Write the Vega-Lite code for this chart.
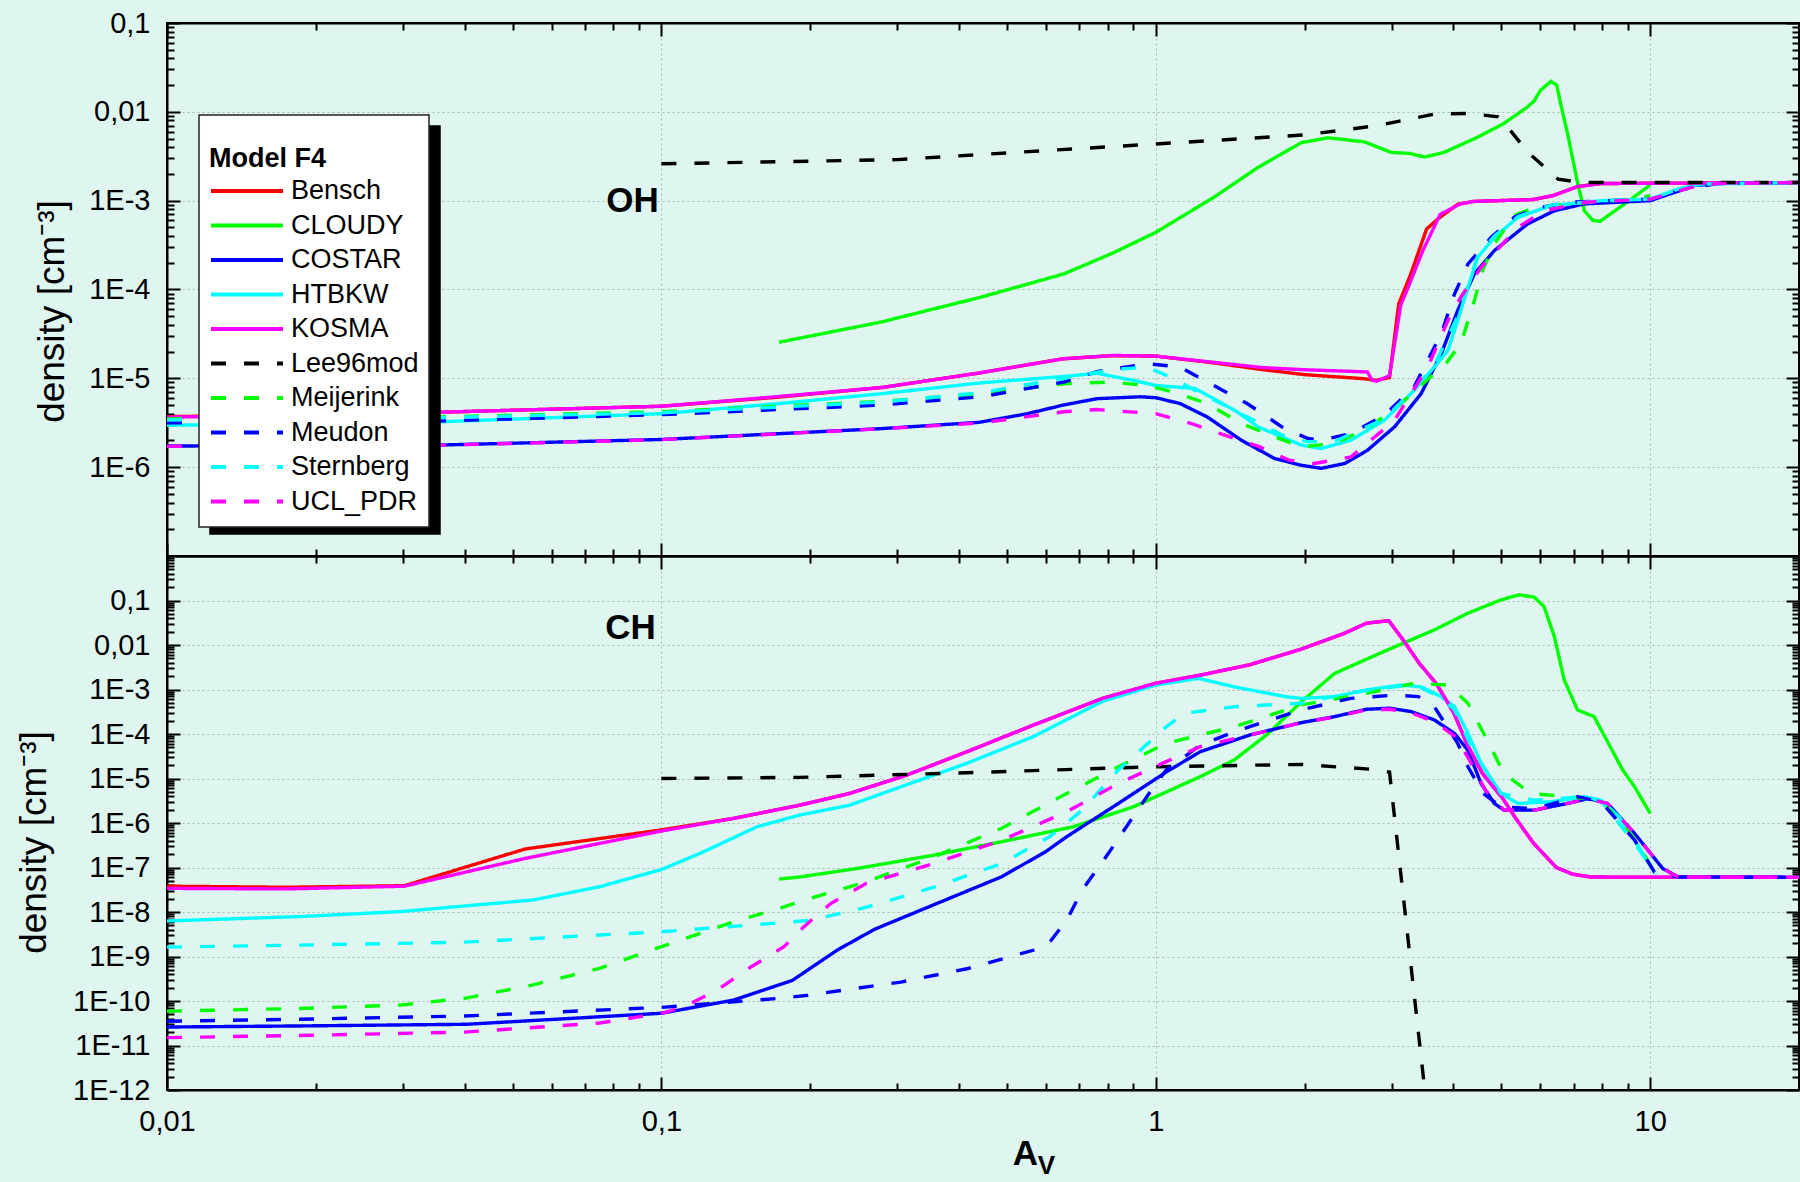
{
  "$schema": "https://vega.github.io/schema/vega-lite/v6.json",
  "background": "#def5f0",
  "padding": {"left": 14, "top": 8, "right": 2, "bottom": 12},
  "config": {
    "font": "Liberation Sans",
    "view": {"stroke": "black", "strokeWidth": 2},
    "axis": {
      "domainColor": "black", "domainWidth": 2, "tickColor": "black", "tickWidth": 2,
      "labelFont": "Liberation Sans", "labelFontSize": 29, "labelColor": "black",
      "labelOverlap": false, "labelFlush": false,
      "titleFont": "Liberation Sans", "titleColor": "black", "titleFontWeight": "normal",
      "gridColor": "#a9b9b5", "gridDash": [2, 3], "gridWidth": 1
    },
    "legend": {
      "fillColor": "white", "strokeColor": "#222222", "strokeWidth": 1.5, "padding": 10,
      "symbolType": "stroke", "symbolSize": 5184, "symbolStrokeWidth": 4,
      "labelFont": "Liberation Sans", "labelFontSize": 27, "labelColor": "black", "labelOffset": 6, "labelLimit": 400,
      "titleFont": "Liberation Sans", "titleFontSize": 27, "titleFontWeight": "bold", "titleColor": "black",
      "titlePadding": 3, "titleLineHeight": 21, "titleLimit": 400,
      "clipHeight": 30, "rowPadding": 4.5
    }
  },
  "datasets": {
    "oh": [
      {"model":"Bensch","av":0.01,"n":3.7e-6},{"model":"Bensch","av":0.03,"n":4.05e-6},{"model":"Bensch","av":0.1,"n":4.85e-6},{"model":"Bensch","av":0.17,"n":6.1e-6},{"model":"Bensch","av":0.28,"n":7.9e-6},{"model":"Bensch","av":0.44,"n":1.15e-5},{"model":"Bensch","av":0.65,"n":1.66e-5},{"model":"Bensch","av":0.82,"n":1.8e-5},{"model":"Bensch","av":1.0,"n":1.78e-5},{"model":"Bensch","av":1.3,"n":1.5e-5},{"model":"Bensch","av":1.65,"n":1.25e-5},{"model":"Bensch","av":2.0,"n":1.1e-5},{"model":"Bensch","av":2.64,"n":9.9e-6},{"model":"Bensch","av":2.79,"n":9.5e-6},{"model":"Bensch","av":2.97,"n":1.02e-5},{"model":"Bensch","av":3.1,"n":6.9e-5},{"model":"Bensch","av":3.27,"n":1.43e-4},{"model":"Bensch","av":3.53,"n":4.8e-4},{"model":"Bensch","av":3.73,"n":6.3e-4},{"model":"Bensch","av":4.08,"n":9.1e-4},{"model":"Bensch","av":4.39,"n":9.8e-4},{"model":"Bensch","av":5.8,"n":1.03e-3},{"model":"Bensch","av":6.36,"n":1.14e-3},{"model":"Bensch","av":7.13,"n":1.44e-3},{"model":"Bensch","av":7.96,"n":1.56e-3},{"model":"Bensch","av":20,"n":1.6e-3},
      {"model":"CLOUDY","av":0.173,"n":2.55e-5},{"model":"CLOUDY","av":0.278,"n":4.3e-5},{"model":"CLOUDY","av":0.443,"n":8.2e-5},{"model":"CLOUDY","av":0.652,"n":1.5e-4},{"model":"CLOUDY","av":0.822,"n":2.6e-4},{"model":"CLOUDY","av":1.0,"n":4.4e-4},{"model":"CLOUDY","av":1.31,"n":1.09e-3},{"model":"CLOUDY","av":1.61,"n":2.37e-3},{"model":"CLOUDY","av":1.97,"n":4.5e-3},{"model":"CLOUDY","av":2.23,"n":5.1e-3},{"model":"CLOUDY","av":2.64,"n":4.6e-3},{"model":"CLOUDY","av":2.99,"n":3.5e-3},{"model":"CLOUDY","av":3.26,"n":3.4e-3},{"model":"CLOUDY","av":3.5,"n":3.1e-3},{"model":"CLOUDY","av":3.83,"n":3.5e-3},{"model":"CLOUDY","av":4.45,"n":5.1e-3},{"model":"CLOUDY","av":5.04,"n":7.3e-3},{"model":"CLOUDY","av":5.63,"n":0.0112},{"model":"CLOUDY","av":5.83,"n":0.0133},{"model":"CLOUDY","av":6.0,"n":0.0175},{"model":"CLOUDY","av":6.3,"n":0.022},{"model":"CLOUDY","av":6.47,"n":0.02},{"model":"CLOUDY","av":6.57,"n":0.0133},{"model":"CLOUDY","av":6.81,"n":5.6e-3},{"model":"CLOUDY","av":7.14,"n":1.54e-3},{"model":"CLOUDY","av":7.36,"n":7.7e-4},{"model":"CLOUDY","av":7.66,"n":6.0e-4},{"model":"CLOUDY","av":7.92,"n":5.85e-4},{"model":"CLOUDY","av":8.9,"n":9.3e-4},{"model":"CLOUDY","av":10,"n":1.5e-3},
      {"model":"COSTAR","av":0.01,"n":1.73e-6},{"model":"COSTAR","av":0.035,"n":1.77e-6},{"model":"COSTAR","av":0.1,"n":2.05e-6},{"model":"COSTAR","av":0.28,"n":2.72e-6},{"model":"COSTAR","av":0.44,"n":3.2e-6},{"model":"COSTAR","av":0.55,"n":4.0e-6},{"model":"COSTAR","av":0.65,"n":5.0e-6},{"model":"COSTAR","av":0.76,"n":5.9e-6},{"model":"COSTAR","av":0.93,"n":6.2e-6},{"model":"COSTAR","av":1.0,"n":6.05e-6},{"model":"COSTAR","av":1.12,"n":5.2e-6},{"model":"COSTAR","av":1.27,"n":3.68e-6},{"model":"COSTAR","av":1.49,"n":2.01e-6},{"model":"COSTAR","av":1.74,"n":1.25e-6},{"model":"COSTAR","av":1.97,"n":1.05e-6},{"model":"COSTAR","av":2.16,"n":9.7e-7},{"model":"COSTAR","av":2.41,"n":1.1e-6},{"model":"COSTAR","av":2.68,"n":1.55e-6},{"model":"COSTAR","av":3.04,"n":2.84e-6},{"model":"COSTAR","av":3.44,"n":6.7e-6},{"model":"COSTAR","av":3.78,"n":1.89e-5},{"model":"COSTAR","av":4.08,"n":5.8e-5},{"model":"COSTAR","av":4.41,"n":1.5e-4},{"model":"COSTAR","av":4.84,"n":2.74e-4},{"model":"COSTAR","av":5.65,"n":5.47e-4},{"model":"COSTAR","av":6.4,"n":7.7e-4},{"model":"COSTAR","av":7.36,"n":9.2e-4},{"model":"COSTAR","av":10,"n":1.0e-3},{"model":"COSTAR","av":12.3,"n":1.48e-3},{"model":"COSTAR","av":13.7,"n":1.56e-3},{"model":"COSTAR","av":20,"n":1.6e-3},
      {"model":"HTBKW","av":0.01,"n":2.96e-6},{"model":"HTBKW","av":0.035,"n":3.23e-6},{"model":"HTBKW","av":0.1,"n":4.0e-6},{"model":"HTBKW","av":0.173,"n":5.2e-6},{"model":"HTBKW","av":0.278,"n":6.7e-6},{"model":"HTBKW","av":0.443,"n":8.9e-6},{"model":"HTBKW","av":0.652,"n":1.05e-5},{"model":"HTBKW","av":0.76,"n":1.14e-5},{"model":"HTBKW","av":0.9,"n":9.5e-6},{"model":"HTBKW","av":1.0,"n":8.3e-6},{"model":"HTBKW","av":1.2,"n":7.7e-6},{"model":"HTBKW","av":1.31,"n":5.9e-6},{"model":"HTBKW","av":1.46,"n":4.2e-6},{"model":"HTBKW","av":1.61,"n":2.84e-6},{"model":"HTBKW","av":1.8,"n":2.19e-6},{"model":"HTBKW","av":1.97,"n":1.77e-6},{"model":"HTBKW","av":2.16,"n":1.62e-6},{"model":"HTBKW","av":2.48,"n":2.01e-6},{"model":"HTBKW","av":2.9,"n":3.37e-6},{"model":"HTBKW","av":3.28,"n":6.7e-6},{"model":"HTBKW","av":3.66,"n":1.34e-5},{"model":"HTBKW","av":3.9,"n":2.06e-5},{"model":"HTBKW","av":4.08,"n":4.49e-5},{"model":"HTBKW","av":4.28,"n":1.06e-4},{"model":"HTBKW","av":4.48,"n":2.3e-4},{"model":"HTBKW","av":4.84,"n":3.87e-4},{"model":"HTBKW","av":5.4,"n":6.5e-4},{"model":"HTBKW","av":6.3,"n":8.8e-4},{"model":"HTBKW","av":7.96,"n":1.0e-3},{"model":"HTBKW","av":10,"n":1.04e-3},{"model":"HTBKW","av":11.4,"n":1.35e-3},{"model":"HTBKW","av":12.7,"n":1.54e-3},{"model":"HTBKW","av":20,"n":1.6e-3},
      {"model":"KOSMA","av":0.01,"n":3.65e-6},{"model":"KOSMA","av":0.03,"n":4.05e-6},{"model":"KOSMA","av":0.1,"n":4.85e-6},{"model":"KOSMA","av":0.17,"n":6.2e-6},{"model":"KOSMA","av":0.28,"n":7.9e-6},{"model":"KOSMA","av":0.44,"n":1.15e-5},{"model":"KOSMA","av":0.65,"n":1.66e-5},{"model":"KOSMA","av":0.82,"n":1.81e-5},{"model":"KOSMA","av":1.0,"n":1.78e-5},{"model":"KOSMA","av":1.3,"n":1.52e-5},{"model":"KOSMA","av":1.65,"n":1.32e-5},{"model":"KOSMA","av":2.0,"n":1.25e-5},{"model":"KOSMA","av":2.68,"n":1.18e-5},{"model":"KOSMA","av":2.74,"n":9.5e-6},{"model":"KOSMA","av":2.8,"n":9.3e-6},{"model":"KOSMA","av":2.97,"n":1.07e-5},{"model":"KOSMA","av":3.13,"n":6.7e-5},{"model":"KOSMA","av":3.24,"n":1.06e-4},{"model":"KOSMA","av":3.47,"n":2.75e-4},{"model":"KOSMA","av":3.76,"n":7.0e-4},{"model":"KOSMA","av":4.13,"n":9.2e-4},{"model":"KOSMA","av":4.39,"n":9.8e-4},{"model":"KOSMA","av":5.8,"n":1.03e-3},{"model":"KOSMA","av":6.36,"n":1.14e-3},{"model":"KOSMA","av":7.13,"n":1.44e-3},{"model":"KOSMA","av":7.96,"n":1.56e-3},{"model":"KOSMA","av":20,"n":1.6e-3},
      {"model":"Lee96mod","av":0.1,"n":2.6e-3},{"model":"Lee96mod","av":0.3,"n":2.9e-3},{"model":"Lee96mod","av":1.0,"n":4.35e-3},{"model":"Lee96mod","av":2.0,"n":5.5e-3},{"model":"Lee96mod","av":2.81,"n":7.0e-3},{"model":"Lee96mod","av":3.65,"n":9.4e-3},{"model":"Lee96mod","av":4.28,"n":9.6e-3},{"model":"Lee96mod","av":4.92,"n":8.8e-3},{"model":"Lee96mod","av":5.06,"n":7.6e-3},{"model":"Lee96mod","av":5.66,"n":3.5e-3},{"model":"Lee96mod","av":6.51,"n":1.75e-3},{"model":"Lee96mod","av":7.24,"n":1.6e-3},{"model":"Lee96mod","av":20,"n":1.6e-3},
      {"model":"Meijerink","av":0.01,"n":3.5e-6},{"model":"Meijerink","av":0.035,"n":3.67e-6},{"model":"Meijerink","av":0.1,"n":4.2e-6},{"model":"Meijerink","av":0.278,"n":5.5e-6},{"model":"Meijerink","av":0.443,"n":6.7e-6},{"model":"Meijerink","av":0.652,"n":8.7e-6},{"model":"Meijerink","av":0.81,"n":9.1e-6},{"model":"Meijerink","av":0.96,"n":8.3e-6},{"model":"Meijerink","av":1.09,"n":7.0e-6},{"model":"Meijerink","av":1.27,"n":5.2e-6},{"model":"Meijerink","av":1.49,"n":3.1e-6},{"model":"Meijerink","av":1.74,"n":2.19e-6},{"model":"Meijerink","av":1.97,"n":1.69e-6},{"model":"Meijerink","av":2.3,"n":1.85e-6},{"model":"Meijerink","av":2.68,"n":2.72e-6},{"model":"Meijerink","av":3.13,"n":5.2e-6},{"model":"Meijerink","av":3.66,"n":1.13e-5},{"model":"Meijerink","av":3.86,"n":1.46e-5},{"model":"Meijerink","av":4.14,"n":2.45e-5},{"model":"Meijerink","av":4.41,"n":7.5e-5},{"model":"Meijerink","av":4.58,"n":1.63e-4},{"model":"Meijerink","av":4.84,"n":3.26e-4},{"model":"Meijerink","av":5.31,"n":6.8e-4},{"model":"Meijerink","av":5.83,"n":8.4e-4},{"model":"Meijerink","av":6.81,"n":9.2e-4},{"model":"Meijerink","av":9.3,"n":1.04e-3},{"model":"Meijerink","av":10,"n":1.14e-3},
      {"model":"Meudon","av":0.01,"n":3.16e-6},{"model":"Meudon","av":0.035,"n":3.3e-6},{"model":"Meudon","av":0.1,"n":3.9e-6},{"model":"Meudon","av":0.278,"n":5.0e-6},{"model":"Meudon","av":0.443,"n":6.2e-6},{"model":"Meudon","av":0.652,"n":9.1e-6},{"model":"Meudon","av":0.76,"n":1.19e-5},{"model":"Meudon","av":0.96,"n":1.46e-5},{"model":"Meudon","av":1.12,"n":1.34e-5},{"model":"Meudon","av":1.31,"n":8.3e-6},{"model":"Meudon","av":1.53,"n":5.2e-6},{"model":"Meudon","av":1.8,"n":2.84e-6},{"model":"Meudon","av":2.03,"n":2.1e-6},{"model":"Meudon","av":2.16,"n":2.01e-6},{"model":"Meudon","av":2.48,"n":2.39e-6},{"model":"Meudon","av":2.9,"n":3.84e-6},{"model":"Meudon","av":3.33,"n":8.0e-6},{"model":"Meudon","av":3.78,"n":3.18e-5},{"model":"Meudon","av":4.02,"n":8.9e-5},{"model":"Meudon","av":4.28,"n":1.94e-4},{"model":"Meudon","av":4.77,"n":3.87e-4},{"model":"Meudon","av":5.31,"n":6.5e-4},{"model":"Meudon","av":5.83,"n":8.1e-4},{"model":"Meudon","av":6.81,"n":9.6e-4},{"model":"Meudon","av":10,"n":1.04e-3},{"model":"Meudon","av":11.7,"n":1.35e-3},{"model":"Meudon","av":13.7,"n":1.56e-3},{"model":"Meudon","av":20,"n":1.6e-3},
      {"model":"Sternberg","av":0.01,"n":3.4e-6},{"model":"Sternberg","av":0.035,"n":3.6e-6},{"model":"Sternberg","av":0.1,"n":4.1e-6},{"model":"Sternberg","av":0.278,"n":5.4e-6},{"model":"Sternberg","av":0.443,"n":6.9e-6},{"model":"Sternberg","av":0.652,"n":1.0e-5},{"model":"Sternberg","av":0.81,"n":1.25e-5},{"model":"Sternberg","av":0.96,"n":1.34e-5},{"model":"Sternberg","av":1.09,"n":9.9e-6},{"model":"Sternberg","av":1.2,"n":7.3e-6},{"model":"Sternberg","av":1.5,"n":3.9e-6},{"model":"Sternberg","av":1.8,"n":2.3e-6},{"model":"Sternberg","av":2.03,"n":1.93e-6},{"model":"Sternberg","av":2.3,"n":1.95e-6},{"model":"Sternberg","av":2.9,"n":3.5e-6},{"model":"Sternberg","av":3.28,"n":6.9e-6},{"model":"Sternberg","av":3.66,"n":1.4e-5},{"model":"Sternberg","av":4.08,"n":5.0e-5},{"model":"Sternberg","av":4.48,"n":2.4e-4},{"model":"Sternberg","av":4.84,"n":4.0e-4},{"model":"Sternberg","av":5.4,"n":6.6e-4},{"model":"Sternberg","av":6.3,"n":8.9e-4},{"model":"Sternberg","av":7.96,"n":1.0e-3},{"model":"Sternberg","av":10,"n":1.04e-3},{"model":"Sternberg","av":11.4,"n":1.35e-3},{"model":"Sternberg","av":12.7,"n":1.54e-3},{"model":"Sternberg","av":20,"n":1.6e-3},
      {"model":"UCL_PDR","av":0.01,"n":1.72e-6},{"model":"UCL_PDR","av":0.035,"n":1.76e-6},{"model":"UCL_PDR","av":0.1,"n":2.04e-6},{"model":"UCL_PDR","av":0.278,"n":2.7e-6},{"model":"UCL_PDR","av":0.443,"n":3.15e-6},{"model":"UCL_PDR","av":0.652,"n":4.2e-6},{"model":"UCL_PDR","av":0.76,"n":4.45e-6},{"model":"UCL_PDR","av":1.0,"n":4.0e-6},{"model":"UCL_PDR","av":1.18,"n":3.1e-6},{"model":"UCL_PDR","av":1.35,"n":2.39e-6},{"model":"UCL_PDR","av":1.62,"n":1.7e-6},{"model":"UCL_PDR","av":1.86,"n":1.2e-6},{"model":"UCL_PDR","av":2.09,"n":1.1e-6},{"model":"UCL_PDR","av":2.48,"n":1.3e-6},{"model":"UCL_PDR","av":3.04,"n":3.37e-6},{"model":"UCL_PDR","av":3.55,"n":1.34e-5},{"model":"UCL_PDR","av":3.9,"n":4.49e-5},{"model":"UCL_PDR","av":4.14,"n":8.2e-5},{"model":"UCL_PDR","av":4.55,"n":1.78e-4},{"model":"UCL_PDR","av":5.4,"n":5.0e-4},{"model":"UCL_PDR","av":6.11,"n":7.7e-4},{"model":"UCL_PDR","av":7.36,"n":9.6e-4},{"model":"UCL_PDR","av":10,"n":1.04e-3},{"model":"UCL_PDR","av":12.1,"n":1.41e-3},{"model":"UCL_PDR","av":13.7,"n":1.56e-3},{"model":"UCL_PDR","av":20,"n":1.6e-3}
    ],
    "ch": [
      {"model":"Bensch","av":0.01,"n":3.8e-8},{"model":"Bensch","av":0.0174,"n":3.6e-8},{"model":"Bensch","av":0.0302,"n":3.9e-8},{"model":"Bensch","av":0.053,"n":2.6e-7},{"model":"Bensch","av":0.1,"n":7.0e-7},{"model":"Bensch","av":0.14,"n":1.27e-6},{"model":"Bensch","av":0.19,"n":2.5e-6},{"model":"Bensch","av":0.24,"n":4.6e-6},{"model":"Bensch","av":0.314,"n":1.2e-5},{"model":"Bensch","av":0.415,"n":4.0e-5},{"model":"Bensch","av":0.565,"n":1.58e-4},{"model":"Bensch","av":0.78,"n":6.3e-4},{"model":"Bensch","av":1.0,"n":1.38e-3},{"model":"Bensch","av":1.23,"n":2.1e-3},{"model":"Bensch","av":1.55,"n":3.6e-3},{"model":"Bensch","av":1.97,"n":8.1e-3},{"model":"Bensch","av":2.41,"n":0.0184},{"model":"Bensch","av":2.67,"n":0.031},{"model":"Bensch","av":2.96,"n":0.0352},{"model":"Bensch","av":3.17,"n":0.0127},{"model":"Bensch","av":3.41,"n":3.9e-3},{"model":"Bensch","av":3.69,"n":1.37e-3},{"model":"Bensch","av":4.0,"n":3.1e-4},{"model":"Bensch","av":4.27,"n":5.7e-5},{"model":"Bensch","av":4.58,"n":1.29e-5},{"model":"Bensch","av":5.03,"n":3.6e-6},{"model":"Bensch","av":5.35,"n":1.26e-6},{"model":"Bensch","av":5.81,"n":3.5e-7},{"model":"Bensch","av":6.46,"n":1.0e-7},{"model":"Bensch","av":6.96,"n":7.1e-8},{"model":"Bensch","av":7.6,"n":6.1e-8},{"model":"Bensch","av":20,"n":6.0e-8},
      {"model":"CLOUDY","av":0.173,"n":5.5e-8},{"model":"CLOUDY","av":0.19,"n":6.1e-8},{"model":"CLOUDY","av":0.253,"n":9.8e-8},{"model":"CLOUDY","av":0.356,"n":1.9e-7},{"model":"CLOUDY","av":0.488,"n":3.8e-7},{"model":"CLOUDY","av":0.68,"n":8.2e-7},{"model":"CLOUDY","av":0.9,"n":2.3e-6},{"model":"CLOUDY","av":1.0,"n":3.9e-6},{"model":"CLOUDY","av":1.23,"n":1.1e-5},{"model":"CLOUDY","av":1.44,"n":2.6e-5},{"model":"CLOUDY","av":1.69,"n":1.03e-4},{"model":"CLOUDY","av":1.97,"n":5.3e-4},{"model":"CLOUDY","av":2.3,"n":2.3e-3},{"model":"CLOUDY","av":2.89,"n":7.1e-3},{"model":"CLOUDY","av":3.66,"n":0.0219},{"model":"CLOUDY","av":4.28,"n":0.052},{"model":"CLOUDY","av":4.99,"n":0.1035},{"model":"CLOUDY","av":5.43,"n":0.134},{"model":"CLOUDY","av":5.83,"n":0.119},{"model":"CLOUDY","av":6.1,"n":0.073},{"model":"CLOUDY","av":6.4,"n":0.0155},{"model":"CLOUDY","av":6.7,"n":1.64e-3},{"model":"CLOUDY","av":7.13,"n":3.47e-4},{"model":"CLOUDY","av":7.7,"n":2.46e-4},{"model":"CLOUDY","av":8.23,"n":6.2e-5},{"model":"CLOUDY","av":8.8,"n":1.55e-5},{"model":"CLOUDY","av":9.3,"n":6.5e-6},{"model":"CLOUDY","av":10,"n":1.64e-6},
      {"model":"COSTAR","av":0.01,"n":2.6e-11},{"model":"COSTAR","av":0.0186,"n":2.75e-11},{"model":"COSTAR","av":0.0404,"n":3.0e-11},{"model":"COSTAR","av":0.1,"n":5.3e-11},{"model":"COSTAR","av":0.14,"n":1.05e-10},{"model":"COSTAR","av":0.184,"n":2.9e-10},{"model":"COSTAR","av":0.227,"n":1.4e-9},{"model":"COSTAR","av":0.27,"n":4.1e-9},{"model":"COSTAR","av":0.358,"n":1.5e-8},{"model":"COSTAR","av":0.488,"n":6.2e-8},{"model":"COSTAR","av":0.6,"n":2.3e-7},{"model":"COSTAR","av":0.66,"n":4.9e-7},{"model":"COSTAR","av":0.84,"n":2.75e-6},{"model":"COSTAR","av":1.05,"n":1.4e-5},{"model":"COSTAR","av":1.23,"n":4.0e-5},{"model":"COSTAR","av":1.55,"n":9.5e-5},{"model":"COSTAR","av":1.97,"n":1.8e-4},{"model":"COSTAR","av":2.3,"n":2.46e-4},{"model":"COSTAR","av":2.67,"n":3.6e-4},{"model":"COSTAR","av":2.97,"n":3.8e-4},{"model":"COSTAR","av":3.28,"n":3.2e-4},{"model":"COSTAR","av":3.66,"n":2.07e-4},{"model":"COSTAR","av":4.02,"n":1.03e-4},{"model":"COSTAR","av":4.28,"n":4.3e-5},{"model":"COSTAR","av":4.55,"n":7.7e-6},{"model":"COSTAR","av":4.84,"n":2.75e-6},{"model":"COSTAR","av":5.06,"n":1.95e-6},{"model":"COSTAR","av":5.83,"n":1.95e-6},{"model":"COSTAR","av":6.8,"n":2.75e-6},{"model":"COSTAR","av":7.5,"n":3.55e-6},{"model":"COSTAR","av":8.2,"n":2.75e-6},{"model":"COSTAR","av":9.3,"n":5.8e-7},{"model":"COSTAR","av":10.6,"n":9.5e-8},{"model":"COSTAR","av":11.4,"n":6.1e-8},{"model":"COSTAR","av":20,"n":6.0e-8},
      {"model":"HTBKW","av":0.01,"n":6.3e-9},{"model":"HTBKW","av":0.0186,"n":7.9e-9},{"model":"HTBKW","av":0.0296,"n":1.02e-8},{"model":"HTBKW","av":0.055,"n":1.86e-8},{"model":"HTBKW","av":0.075,"n":3.7e-8},{"model":"HTBKW","av":0.1,"n":9.0e-8},{"model":"HTBKW","av":0.12,"n":2.1e-7},{"model":"HTBKW","av":0.156,"n":8.2e-7},{"model":"HTBKW","av":0.19,"n":1.5e-6},{"model":"HTBKW","av":0.24,"n":2.5e-6},{"model":"HTBKW","av":0.305,"n":6.5e-6},{"model":"HTBKW","av":0.415,"n":2.2e-5},{"model":"HTBKW","av":0.565,"n":8.7e-5},{"model":"HTBKW","av":0.78,"n":5.4e-4},{"model":"HTBKW","av":1.0,"n":1.26e-3},{"model":"HTBKW","av":1.22,"n":1.78e-3},{"model":"HTBKW","av":1.44,"n":1.15e-3},{"model":"HTBKW","av":1.83,"n":6.9e-4},{"model":"HTBKW","av":1.97,"n":6.3e-4},{"model":"HTBKW","av":2.3,"n":6.9e-4},{"model":"HTBKW","av":2.67,"n":9.8e-4},{"model":"HTBKW","av":3.13,"n":1.26e-3},{"model":"HTBKW","av":3.44,"n":1.15e-3},{"model":"HTBKW","av":3.78,"n":6.9e-4},{"model":"HTBKW","av":4.02,"n":4.1e-4},{"model":"HTBKW","av":4.28,"n":1.03e-4},{"model":"HTBKW","av":4.55,"n":2.2e-5},{"model":"HTBKW","av":4.99,"n":4.6e-6},{"model":"HTBKW","av":5.4,"n":2.75e-6},{"model":"HTBKW","av":6.3,"n":3.0e-6},{"model":"HTBKW","av":7.36,"n":3.9e-6},{"model":"HTBKW","av":7.96,"n":3.25e-6},{"model":"HTBKW","av":8.66,"n":1.37e-6},{"model":"HTBKW","av":9.3,"n":4.1e-7},{"model":"HTBKW","av":10.2,"n":7.9e-8},
      {"model":"KOSMA","av":0.01,"n":3.4e-8},{"model":"KOSMA","av":0.0174,"n":3.3e-8},{"model":"KOSMA","av":0.0302,"n":3.8e-8},{"model":"KOSMA","av":0.053,"n":1.6e-7},{"model":"KOSMA","av":0.1,"n":6.6e-7},{"model":"KOSMA","av":0.14,"n":1.27e-6},{"model":"KOSMA","av":0.19,"n":2.5e-6},{"model":"KOSMA","av":0.24,"n":4.6e-6},{"model":"KOSMA","av":0.314,"n":1.2e-5},{"model":"KOSMA","av":0.415,"n":4.0e-5},{"model":"KOSMA","av":0.565,"n":1.58e-4},{"model":"KOSMA","av":0.78,"n":6.3e-4},{"model":"KOSMA","av":1.0,"n":1.38e-3},{"model":"KOSMA","av":1.23,"n":2.1e-3},{"model":"KOSMA","av":1.55,"n":3.6e-3},{"model":"KOSMA","av":1.97,"n":8.1e-3},{"model":"KOSMA","av":2.41,"n":0.0184},{"model":"KOSMA","av":2.67,"n":0.031},{"model":"KOSMA","av":2.96,"n":0.0352},{"model":"KOSMA","av":3.17,"n":0.0127},{"model":"KOSMA","av":3.41,"n":3.9e-3},{"model":"KOSMA","av":3.69,"n":1.37e-3},{"model":"KOSMA","av":4.0,"n":3.1e-4},{"model":"KOSMA","av":4.27,"n":5.7e-5},{"model":"KOSMA","av":4.58,"n":1.29e-5},{"model":"KOSMA","av":5.03,"n":3.6e-6},{"model":"KOSMA","av":5.35,"n":1.26e-6},{"model":"KOSMA","av":5.81,"n":3.5e-7},{"model":"KOSMA","av":6.46,"n":1.0e-7},{"model":"KOSMA","av":6.96,"n":7.1e-8},{"model":"KOSMA","av":7.6,"n":6.1e-8},{"model":"KOSMA","av":20,"n":6.0e-8},
      {"model":"Lee96mod","av":0.1,"n":1.0e-5},{"model":"Lee96mod","av":0.19,"n":1.06e-5},{"model":"Lee96mod","av":0.415,"n":1.35e-5},{"model":"Lee96mod","av":1.0,"n":1.84e-5},{"model":"Lee96mod","av":1.97,"n":2.07e-5},{"model":"Lee96mod","av":2.76,"n":1.6e-5},{"model":"Lee96mod","av":2.97,"n":1.4e-5},{"model":"Lee96mod","av":3.5,"n":1e-12},
      {"model":"Meijerink","av":0.01,"n":5.9e-11},{"model":"Meijerink","av":0.0186,"n":6.8e-11},{"model":"Meijerink","av":0.0296,"n":8.1e-11},{"model":"Meijerink","av":0.04,"n":1.15e-10},{"model":"Meijerink","av":0.055,"n":2.3e-10},{"model":"Meijerink","av":0.075,"n":5.4e-10},{"model":"Meijerink","av":0.1,"n":1.66e-9},{"model":"Meijerink","av":0.14,"n":6.0e-9},{"model":"Meijerink","av":0.177,"n":1.3e-8},{"model":"Meijerink","av":0.19,"n":1.7e-8},{"model":"Meijerink","av":0.26,"n":4.8e-8},{"model":"Meijerink","av":0.356,"n":1.74e-7},{"model":"Meijerink","av":0.488,"n":7.6e-7},{"model":"Meijerink","av":0.66,"n":4.6e-6},{"model":"Meijerink","av":0.84,"n":1.83e-5},{"model":"Meijerink","av":1.05,"n":6.2e-5},{"model":"Meijerink","av":1.44,"n":1.45e-4},{"model":"Meijerink","av":1.97,"n":4.5e-4},{"model":"Meijerink","av":2.67,"n":8.2e-4},{"model":"Meijerink","av":3.33,"n":1.38e-3},{"model":"Meijerink","av":3.9,"n":1.26e-3},{"model":"Meijerink","av":4.28,"n":4.9e-4},{"model":"Meijerink","av":4.64,"n":8.7e-5},{"model":"Meijerink","av":5.06,"n":1.3e-5},{"model":"Meijerink","av":5.74,"n":4.6e-6},{"model":"Meijerink","av":6.8,"n":3.9e-6},{"model":"Meijerink","av":7.96,"n":3.25e-6},{"model":"Meijerink","av":9.3,"n":4.5e-7},{"model":"Meijerink","av":10.2,"n":8.0e-8},
      {"model":"Meudon","av":0.01,"n":3.5e-11},{"model":"Meudon","av":0.0186,"n":3.9e-11},{"model":"Meudon","av":0.04,"n":4.6e-11},{"model":"Meudon","av":0.1,"n":7.2e-11},{"model":"Meudon","av":0.174,"n":1.15e-10},{"model":"Meudon","av":0.198,"n":1.35e-10},{"model":"Meudon","av":0.305,"n":2.66e-10},{"model":"Meudon","av":0.415,"n":5.3e-10},{"model":"Meudon","av":0.565,"n":1.38e-9},{"model":"Meudon","av":0.61,"n":2.1e-9},{"model":"Meudon","av":0.66,"n":6.5e-9},{"model":"Meudon","av":0.71,"n":3.1e-8},{"model":"Meudon","av":0.8,"n":2.0e-7},{"model":"Meudon","av":0.9,"n":1.38e-6},{"model":"Meudon","av":0.99,"n":6.5e-6},{"model":"Meudon","av":1.05,"n":1.55e-5},{"model":"Meudon","av":1.23,"n":5.6e-5},{"model":"Meudon","av":1.44,"n":1.12e-4},{"model":"Meudon","av":1.97,"n":3.5e-4},{"model":"Meudon","av":2.48,"n":6.3e-4},{"model":"Meudon","av":3.04,"n":7.5e-4},{"model":"Meudon","av":3.4,"n":6.9e-4},{"model":"Meudon","av":3.66,"n":4.1e-4},{"model":"Meudon","av":4.08,"n":6.2e-5},{"model":"Meudon","av":4.28,"n":1.83e-5},{"model":"Meudon","av":4.6,"n":4.6e-6},{"model":"Meudon","av":4.99,"n":2.3e-6},{"model":"Meudon","av":5.83,"n":2.1e-6},{"model":"Meudon","av":7.13,"n":3.9e-6},{"model":"Meudon","av":7.96,"n":3.0e-6},{"model":"Meudon","av":9.3,"n":4.1e-7},{"model":"Meudon","av":10.2,"n":7.9e-8},{"model":"Meudon","av":11.4,"n":6.1e-8},{"model":"Meudon","av":20,"n":6.0e-8},
      {"model":"Sternberg","av":0.01,"n":1.63e-9},{"model":"Sternberg","av":0.0186,"n":1.8e-9},{"model":"Sternberg","av":0.04,"n":2.1e-9},{"model":"Sternberg","av":0.1,"n":3.6e-9},{"model":"Sternberg","av":0.177,"n":5.8e-9},{"model":"Sternberg","av":0.2,"n":6.5e-9},{"model":"Sternberg","av":0.26,"n":1.28e-8},{"model":"Sternberg","av":0.356,"n":3.6e-8},{"model":"Sternberg","av":0.488,"n":1.23e-7},{"model":"Sternberg","av":0.61,"n":4.9e-7},{"model":"Sternberg","av":0.71,"n":1.95e-6},{"model":"Sternberg","av":0.84,"n":1.55e-5},{"model":"Sternberg","av":0.9,"n":3.1e-5},{"model":"Sternberg","av":1.05,"n":1.45e-4},{"model":"Sternberg","av":1.14,"n":2.9e-4},{"model":"Sternberg","av":1.44,"n":4.1e-4},{"model":"Sternberg","av":1.97,"n":4.9e-4},{"model":"Sternberg","av":2.5,"n":8.5e-4},{"model":"Sternberg","av":3.13,"n":1.2e-3},{"model":"Sternberg","av":3.44,"n":1.1e-3},{"model":"Sternberg","av":3.78,"n":6.5e-4},{"model":"Sternberg","av":4.02,"n":3.5e-4},{"model":"Sternberg","av":4.41,"n":3.7e-5},{"model":"Sternberg","av":4.99,"n":4.6e-6},{"model":"Sternberg","av":5.83,"n":3.25e-6},{"model":"Sternberg","av":7.36,"n":3.9e-6},{"model":"Sternberg","av":7.96,"n":3.1e-6},{"model":"Sternberg","av":9.3,"n":3.5e-7},{"model":"Sternberg","av":10.3,"n":7.0e-8},
      {"model":"UCL_PDR","av":0.01,"n":1.5e-11},{"model":"UCL_PDR","av":0.0197,"n":1.7e-11},{"model":"UCL_PDR","av":0.04,"n":2.0e-11},{"model":"UCL_PDR","av":0.075,"n":3.2e-11},{"model":"UCL_PDR","av":0.1,"n":5.3e-11},{"model":"UCL_PDR","av":0.111,"n":7.4e-11},{"model":"UCL_PDR","av":0.13,"n":1.8e-10},{"model":"UCL_PDR","av":0.152,"n":5.9e-10},{"model":"UCL_PDR","av":0.177,"n":1.66e-9},{"model":"UCL_PDR","av":0.194,"n":4.6e-9},{"model":"UCL_PDR","av":0.22,"n":1.55e-8},{"model":"UCL_PDR","av":0.26,"n":4.4e-8},{"model":"UCL_PDR","av":0.356,"n":1.23e-7},{"model":"UCL_PDR","av":0.488,"n":4.1e-7},{"model":"UCL_PDR","av":0.66,"n":1.78e-6},{"model":"UCL_PDR","av":0.84,"n":7.7e-6},{"model":"UCL_PDR","av":1.05,"n":2.4e-5},{"model":"UCL_PDR","av":1.23,"n":5.2e-5},{"model":"UCL_PDR","av":1.55,"n":9.5e-5},{"model":"UCL_PDR","av":1.97,"n":1.8e-4},{"model":"UCL_PDR","av":2.3,"n":2.4e-4},{"model":"UCL_PDR","av":2.67,"n":3.5e-4},{"model":"UCL_PDR","av":2.97,"n":3.6e-4},{"model":"UCL_PDR","av":3.28,"n":3.0e-4},{"model":"UCL_PDR","av":3.66,"n":1.9e-4},{"model":"UCL_PDR","av":4.02,"n":9.0e-5},{"model":"UCL_PDR","av":4.28,"n":3.0e-5},{"model":"UCL_PDR","av":4.64,"n":5.5e-6},{"model":"UCL_PDR","av":5.06,"n":1.95e-6},{"model":"UCL_PDR","av":5.83,"n":1.95e-6},{"model":"UCL_PDR","av":6.8,"n":2.75e-6},{"model":"UCL_PDR","av":7.5,"n":3.5e-6},{"model":"UCL_PDR","av":8.2,"n":2.75e-6},{"model":"UCL_PDR","av":9.3,"n":5.8e-7},{"model":"UCL_PDR","av":10.6,"n":9.5e-8},{"model":"UCL_PDR","av":11.4,"n":6.1e-8},{"model":"UCL_PDR","av":20,"n":6.0e-8}
    ],
    "lab_oh": [{"label": "OH", "av": 0.0874, "n": 0.001}],
    "lab_ch": [{"label": "CH", "av": 0.0866, "n": 0.0241}]
  },
  "spacing": 0,
  "bounds": "flush",
  "resolve": {"scale": {"color": "independent", "strokeDash": "independent", "opacity": "independent", "x": "independent", "y": "independent"}},
  "vconcat": [
    {
      "width": 1632, "height": 533,
      "resolve": {"axis": {"x": "independent", "y": "independent"}},
      "layer": [
        {
          "data": {"name": "oh"},
          "mark": {"type": "line", "strokeWidth": 3.4, "clip": true},
          "encoding": {
            "x": {"field": "av", "type": "quantitative", "scale": {"type": "log", "domain": [0.01, 20], "nice": false},
              "axis": {"orient": "bottom", "values": [0.01, 0.1, 1, 10], "labels": false, "title": null, "grid": true, "tickSize": -13}},
            "y": {"field": "n", "type": "quantitative", "scale": {"type": "log", "domain": [1e-7, 0.1], "nice": false},
              "axis": {"orient": "left", "values": [1e-6, 1e-5, 1e-4, 0.001, 0.01, 0.1],
                "labelExpr": "datum.value > 0.05 ? '0,1' : (datum.value > 0.005 ? '0,01' : '1E' + round(log(datum.value)/LN10))",
                "labelPadding": 30, "grid": true, "tickSize": -13,
                "title": "density [cm⁻³]", "titleFontSize": 37, "titleX": -96, "titleY": 288, "titleAlign": "center", "titleBaseline": "bottom"}},
            "color": {"field": "model", "type": "nominal",
              "scale": {"domain": ["Bensch","CLOUDY","COSTAR","HTBKW","KOSMA","Lee96mod","Meijerink","Meudon","Sternberg","UCL_PDR"],
                "range": ["#ff0000","#00ff00","#0000ff","#00ffff","#ff00ff","#000000","#00ff00","#0000ff","#00ffff","#ff00ff"]},
              "legend": {"title": [" ", "Model F4"], "orient": "none", "legendX": 32, "legendY": 92, "zindex": 2}},
            "strokeDash": {"field": "model", "type": "nominal",
              "scale": {"domain": ["Bensch","CLOUDY","COSTAR","HTBKW","KOSMA","Lee96mod","Meijerink","Meudon","Sternberg","UCL_PDR"],
                "range": [[1,0],[1,0],[1,0],[1,0],[1,0],[15,18],[15,18],[15,18],[15,18],[15,18]]},
              "legend": {"title": [" ", "Model F4"], "orient": "none", "legendX": 32, "legendY": 92, "zindex": 2}}
          }
        },
        {
          "data": {"name": "lab_oh"},
          "mark": {"type": "text", "font": "Liberation Sans", "fontSize": 35, "fontWeight": "bold", "color": "black", "align": "center", "baseline": "middle"},
          "encoding": {
            "x": {"field": "av", "type": "quantitative", "scale": {"type": "log", "domain": [0.01, 20], "nice": false},
              "axis": {"orient": "top", "values": [0.01, 0.1, 1, 10], "labels": false, "title": null, "grid": false, "tickSize": -13}},
            "y": {"field": "n", "type": "quantitative", "scale": {"type": "log", "domain": [1e-7, 0.1], "nice": false},
              "axis": {"orient": "right", "values": [1e-6, 1e-5, 1e-4, 0.001, 0.01, 0.1], "labels": false, "title": null, "grid": false, "tickSize": -13}},
            "text": {"field": "label", "type": "nominal"}
          }
        },
        {
          "data": {"name": "oh"},
          "mark": {"type": "line", "strokeWidth": 1},
          "encoding": {
            "x": {"field": "av", "type": "quantitative", "scale": {"type": "log", "domain": [0.01, 20], "nice": false},
              "axis": {"orient": "bottom", "values": [0.02,0.03,0.04,0.05,0.06,0.07,0.08,0.09,0.2,0.3,0.4,0.5,0.6,0.7,0.8,0.9,2,3,4,5,6,7,8,9],
                "labels": false, "title": null, "grid": false, "domain": false, "tickSize": -7}},
            "y": {"field": "n", "type": "quantitative", "scale": {"type": "log", "domain": [1e-7, 0.1], "nice": false},
              "axis": {"orient": "left", "values": [2e-7,3e-7,4e-7,5e-7,6e-7,7e-7,8e-7,9e-7,2e-6,3e-6,4e-6,5e-6,6e-6,7e-6,8e-6,9e-6,2e-5,3e-5,4e-5,5e-5,6e-5,7e-5,8e-5,9e-5,2e-4,3e-4,4e-4,5e-4,6e-4,7e-4,8e-4,9e-4,0.002,0.003,0.004,0.005,0.006,0.007,0.008,0.009,0.02,0.03,0.04,0.05,0.06,0.07,0.08,0.09],
                "labels": false, "title": null, "grid": false, "domain": false, "tickSize": -7}},
            "opacity": {"field": "model", "type": "nominal", "scale": {"range": [0, 0]},
              "legend": {"title": [" ", " "], "labelExpr": "''", "orient": "none", "legendX": 43, "legendY": 103, "zindex": 1,
                "symbolSize": 39840, "clipHeight": 30, "rowPadding": 8.3,
                "fillColor": "black", "strokeColor": "black", "labelColor": "black", "titleColor": "black", "symbolOpacity": 0}}
          }
        },
        {
          "data": {"name": "lab_oh"},
          "mark": {"type": "text", "opacity": 0, "fontSize": 35},
          "encoding": {
            "x": {"field": "av", "type": "quantitative", "scale": {"type": "log", "domain": [0.01, 20], "nice": false},
              "axis": {"orient": "top", "values": [0.02,0.03,0.04,0.05,0.06,0.07,0.08,0.09,0.2,0.3,0.4,0.5,0.6,0.7,0.8,0.9,2,3,4,5,6,7,8,9],
                "labels": false, "title": null, "grid": false, "domain": false, "tickSize": -7}},
            "y": {"field": "n", "type": "quantitative", "scale": {"type": "log", "domain": [1e-7, 0.1], "nice": false},
              "axis": {"orient": "right", "values": [2e-7,3e-7,4e-7,5e-7,6e-7,7e-7,8e-7,9e-7,2e-6,3e-6,4e-6,5e-6,6e-6,7e-6,8e-6,9e-6,2e-5,3e-5,4e-5,5e-5,6e-5,7e-5,8e-5,9e-5,2e-4,3e-4,4e-4,5e-4,6e-4,7e-4,8e-4,9e-4,0.002,0.003,0.004,0.005,0.006,0.007,0.008,0.009,0.02,0.03,0.04,0.05,0.06,0.07,0.08,0.09],
                "labels": false, "title": null, "grid": false, "domain": false, "tickSize": -7}},
            "text": {"field": "label", "type": "nominal"}
          }
        }
      ]
    },
    {
      "width": 1632, "height": 534,
      "resolve": {"axis": {"x": "independent", "y": "independent"}},
      "layer": [
        {
          "data": {"name": "ch"},
          "mark": {"type": "line", "strokeWidth": 3.4, "clip": true},
          "encoding": {
            "x": {"field": "av", "type": "quantitative", "scale": {"type": "log", "domain": [0.01, 20], "nice": false},
              "axis": {"orient": "bottom", "values": [0.01, 0.1, 1, 10],
                "labelExpr": "datum.value < 0.05 ? '0,01' : (datum.value < 0.5 ? '0,1' : (datum.value < 5 ? '1' : '10'))",
                "labelPadding": 30, "grid": true, "tickSize": -13,
                "title": "A", "titleFontSize": 35, "titleFontWeight": "bold", "titleX": 858, "titleY": 74, "titleAlign": "center", "titleBaseline": "alphabetic"}},
            "y": {"field": "n", "type": "quantitative", "scale": {"type": "log", "domain": [1e-12, 1], "nice": false},
              "axis": {"orient": "left", "values": [1e-12,1e-11,1e-10,1e-9,1e-8,1e-7,1e-6,1e-5,1e-4,0.001,0.01,0.1],
                "labelExpr": "datum.value > 0.05 ? '0,1' : (datum.value > 0.005 ? '0,01' : '1E' + round(log(datum.value)/LN10))",
                "labelPadding": 30, "grid": true, "tickSize": -13,
                "title": "density [cm⁻³]", "titleFontSize": 37, "titleX": -114, "titleY": 286, "titleAlign": "center", "titleBaseline": "bottom"}},
            "color": {"field": "model", "type": "nominal",
              "scale": {"domain": ["Bensch","CLOUDY","COSTAR","HTBKW","KOSMA","Lee96mod","Meijerink","Meudon","Sternberg","UCL_PDR"],
                "range": ["#ff0000","#00ff00","#0000ff","#00ffff","#ff00ff","#000000","#00ff00","#0000ff","#00ffff","#ff00ff"]},
              "legend": null},
            "strokeDash": {"field": "model", "type": "nominal",
              "scale": {"domain": ["Bensch","CLOUDY","COSTAR","HTBKW","KOSMA","Lee96mod","Meijerink","Meudon","Sternberg","UCL_PDR"],
                "range": [[1,0],[1,0],[1,0],[1,0],[1,0],[15,18],[15,18],[15,18],[15,18],[15,18]]},
              "legend": null}
          }
        },
        {
          "data": {"name": "lab_ch"},
          "mark": {"type": "text", "font": "Liberation Sans", "fontSize": 35, "fontWeight": "bold", "color": "black", "align": "center", "baseline": "middle"},
          "encoding": {
            "x": {"field": "av", "type": "quantitative", "scale": {"type": "log", "domain": [0.01, 20], "nice": false},
              "axis": {"orient": "top", "values": [0.01, 0.1, 1, 10], "labels": false, "title": null, "grid": false, "tickSize": -13}},
            "y": {"field": "n", "type": "quantitative", "scale": {"type": "log", "domain": [1e-12, 1], "nice": false},
              "axis": {"orient": "right", "values": [1e-12,1e-11,1e-10,1e-9,1e-8,1e-7,1e-6,1e-5,1e-4,0.001,0.01,0.1], "labels": false, "title": null, "grid": false, "tickSize": -13}},
            "text": {"field": "label", "type": "nominal"}
          }
        },
        {
          "data": {"name": "lab_ch"},
          "mark": {"type": "text", "opacity": 0, "fontSize": 35},
          "encoding": {
            "x": {"field": "av", "type": "quantitative", "scale": {"type": "log", "domain": [0.01, 20], "nice": false},
              "axis": {"orient": "bottom", "values": [0.02,0.03,0.04,0.05,0.06,0.07,0.08,0.09,0.2,0.3,0.4,0.5,0.6,0.7,0.8,0.9,2,3,4,5,6,7,8,9],
                "labels": false, "grid": false, "domain": false, "tickSize": -7,
                "title": "V", "titleFontSize": 26, "titleFontWeight": "bold", "titleX": 879, "titleY": 83, "titleAlign": "center", "titleBaseline": "alphabetic"}},
            "y": {"field": "n", "type": "quantitative", "scale": {"type": "log", "domain": [1e-12, 1], "nice": false},
              "axis": {"orient": "left", "values": [2e-12,3e-12,4e-12,5e-12,6e-12,7e-12,8e-12,9e-12,2e-11,3e-11,4e-11,5e-11,6e-11,7e-11,8e-11,9e-11,2e-10,3e-10,4e-10,5e-10,6e-10,7e-10,8e-10,9e-10,2e-9,3e-9,4e-9,5e-9,6e-9,7e-9,8e-9,9e-9,2e-8,3e-8,4e-8,5e-8,6e-8,7e-8,8e-8,9e-8,2e-7,3e-7,4e-7,5e-7,6e-7,7e-7,8e-7,9e-7,2e-6,3e-6,4e-6,5e-6,6e-6,7e-6,8e-6,9e-6,2e-5,3e-5,4e-5,5e-5,6e-5,7e-5,8e-5,9e-5,2e-4,3e-4,4e-4,5e-4,6e-4,7e-4,8e-4,9e-4,0.002,0.003,0.004,0.005,0.006,0.007,0.008,0.009,0.02,0.03,0.04,0.05,0.06,0.07,0.08,0.09,0.2,0.3,0.4,0.5,0.6,0.7,0.8,0.9],
                "labels": false, "title": null, "grid": false, "domain": false, "tickSize": -7}},
            "text": {"field": "label", "type": "nominal"}
          }
        },
        {
          "data": {"name": "lab_ch"},
          "mark": {"type": "text", "opacity": 0, "fontSize": 35},
          "encoding": {
            "x": {"field": "av", "type": "quantitative", "scale": {"type": "log", "domain": [0.01, 20], "nice": false},
              "axis": {"orient": "top", "values": [0.02,0.03,0.04,0.05,0.06,0.07,0.08,0.09,0.2,0.3,0.4,0.5,0.6,0.7,0.8,0.9,2,3,4,5,6,7,8,9],
                "labels": false, "title": null, "grid": false, "domain": false, "tickSize": -7}},
            "y": {"field": "n", "type": "quantitative", "scale": {"type": "log", "domain": [1e-12, 1], "nice": false},
              "axis": {"orient": "right", "values": [2e-12,3e-12,4e-12,5e-12,6e-12,7e-12,8e-12,9e-12,2e-11,3e-11,4e-11,5e-11,6e-11,7e-11,8e-11,9e-11,2e-10,3e-10,4e-10,5e-10,6e-10,7e-10,8e-10,9e-10,2e-9,3e-9,4e-9,5e-9,6e-9,7e-9,8e-9,9e-9,2e-8,3e-8,4e-8,5e-8,6e-8,7e-8,8e-8,9e-8,2e-7,3e-7,4e-7,5e-7,6e-7,7e-7,8e-7,9e-7,2e-6,3e-6,4e-6,5e-6,6e-6,7e-6,8e-6,9e-6,2e-5,3e-5,4e-5,5e-5,6e-5,7e-5,8e-5,9e-5,2e-4,3e-4,4e-4,5e-4,6e-4,7e-4,8e-4,9e-4,0.002,0.003,0.004,0.005,0.006,0.007,0.008,0.009,0.02,0.03,0.04,0.05,0.06,0.07,0.08,0.09,0.2,0.3,0.4,0.5,0.6,0.7,0.8,0.9],
                "labels": false, "title": null, "grid": false, "domain": false, "tickSize": -7}},
            "text": {"field": "label", "type": "nominal"}
          }
        }
      ]
    }
  ]
}
